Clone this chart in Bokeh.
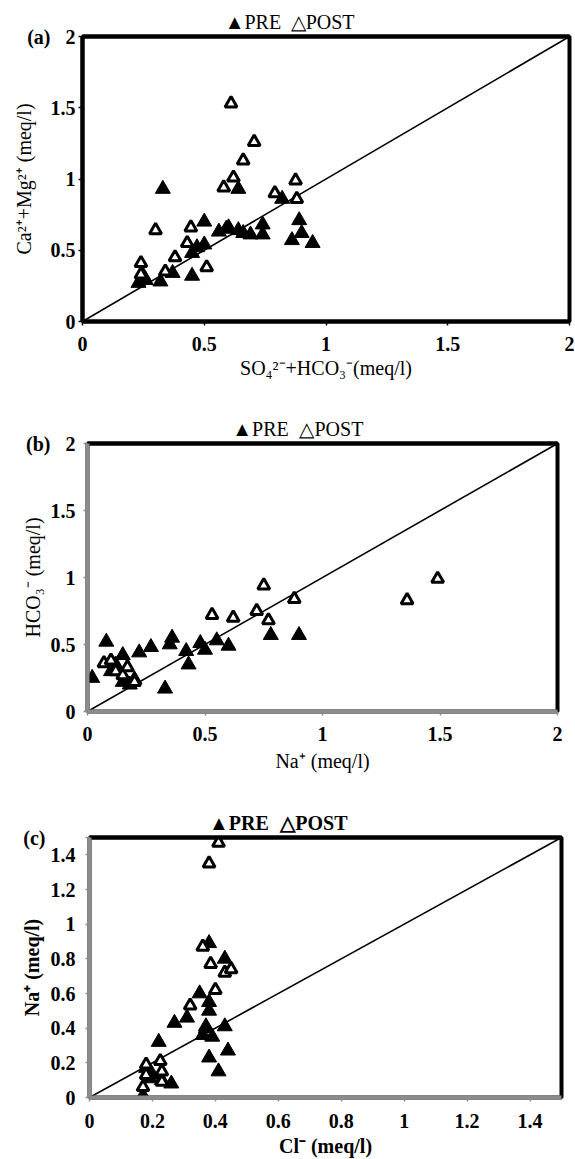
from bokeh.plotting import figure
from bokeh.models import Range1d, FixedTicker, NumeralTickFormatter, LinearAxis
from bokeh.embed import file_html
from bokeh.resources import INLINE

# ---------------- data ----------------
# (a) Ca2+ + Mg2+ vs SO4 2- + HCO3-
a_pre_x = [0.23, 0.25, 0.26, 0.32, 0.33, 0.37, 0.45, 0.45, 0.47, 0.50, 0.50, 0.56, 0.59,
           0.60, 0.64, 0.64, 0.66, 0.69, 0.74, 0.74, 0.82, 0.86, 0.90, 0.89, 0.945]
a_pre_y = [0.27, 0.32, 0.29, 0.28, 0.93, 0.34, 0.32, 0.48, 0.52, 0.54, 0.70, 0.63, 0.65,
           0.66, 0.93, 0.64, 0.62, 0.61, 0.61, 0.68, 0.86, 0.57, 0.62, 0.71, 0.55]
a_post_x = [0.24, 0.24, 0.30, 0.34, 0.38, 0.43, 0.445, 0.51, 0.58, 0.61, 0.62, 0.66,
            0.705, 0.79, 0.875, 0.88]
a_post_y = [0.41, 0.33, 0.64, 0.35, 0.45, 0.55, 0.66, 0.38, 0.94, 1.53, 1.01, 1.13,
            1.26, 0.90, 0.99, 0.86]

# (b) HCO3- vs Na+
b_pre_x = [0.02, 0.08, 0.10, 0.12, 0.15, 0.15, 0.18, 0.20, 0.22, 0.27, 0.33, 0.35, 0.36,
           0.42, 0.43, 0.48, 0.50, 0.55, 0.60, 0.78, 0.90]
b_pre_y = [0.25, 0.52, 0.30, 0.35, 0.42, 0.22, 0.20, 0.24, 0.44, 0.48, 0.17, 0.50, 0.55,
           0.45, 0.35, 0.51, 0.46, 0.53, 0.49, 0.57, 0.57]
b_post_x = [0.07, 0.10, 0.12, 0.15, 0.17, 0.20, 0.53, 0.62, 0.72, 0.75, 0.77, 0.88, 1.36, 1.49]
b_post_y = [0.36, 0.38, 0.30, 0.27, 0.33, 0.22, 0.72, 0.70, 0.75, 0.94, 0.68, 0.84, 0.83, 0.99]

# (c) Na+ vs Cl-
c_pre_x = [0.17, 0.18, 0.19, 0.20, 0.22, 0.23, 0.26, 0.27, 0.31, 0.35, 0.36, 0.37, 0.38,
           0.38, 0.38, 0.38, 0.39, 0.41, 0.43, 0.43, 0.44, 0.37]
c_pre_y = [0.01, 0.17, 0.11, 0.13, 0.32, 0.10, 0.08, 0.43, 0.46, 0.60, 0.36, 0.41, 0.89,
           0.55, 0.50, 0.23, 0.35, 0.15, 0.80, 0.41, 0.27, 0.40]
c_post_x = [0.41, 0.38, 0.36, 0.385, 0.43, 0.45, 0.40, 0.32, 0.18, 0.225, 0.23, 0.23, 0.17, 0.18]
c_post_y = [1.47, 1.35, 0.87, 0.77, 0.72, 0.74, 0.62, 0.53, 0.19, 0.21, 0.15, 0.09, 0.06, 0.13]

ticks_ab = [0, 0.5, 1, 1.5, 2]
ticks_c = [0, 0.2, 0.4, 0.6, 0.8, 1, 1.2, 1.4]
line_ab = [0, 2]
line_c = [0, 1.5]
legend_labels = ["▲PRE", "△POST"]

SERIF = "Liberation Serif"
NB = "\u00a0"


def build(height, borders, lim, ticks, xlabel, ylabel, pre, post, line, edge, bold,
          xstd, ystd, legend_pos, tag, tag_y, tag_pad):
    top, right, bottom, left = borders
    p = figure(width=575, height=height, output_backend="svg", toolbar_location=None,
               x_range=Range1d(0, lim), y_range=Range1d(0, lim),
               min_border_top=top, min_border_right=right,
               min_border_bottom=bottom, min_border_left=left)
    p.outline_line_color = "black"
    p.outline_line_width = 4
    p.outline_line_alpha = 1.0
    p.xgrid.visible = False
    p.ygrid.visible = False
    p.background_fill_color = "white"
    p.border_fill_color = "white"

    p.line(line, line, line_color="black", line_width=1.6)
    p.scatter(pre[0], pre[1], marker="triangle", size=15, fill_color="black",
              line_color="black", line_width=1)
    p.scatter(post[0], post[1], marker="triangle", size=12, fill_color="white",
              line_color="black", line_width=3)

    style = "bold" if bold else "normal"
    for ax, (s, ls) in ((p.xaxis[0], xstd), (p.yaxis[0], ystd)):
        ax.ticker = FixedTicker(ticks=ticks)
        ax.formatter = NumeralTickFormatter(format="0.[0]")
        ax.minor_tick_line_color = None
        ax.major_tick_out = 4
        ax.major_tick_in = 0
        ax.major_tick_line_color = edge
        ax.major_tick_line_width = 1.5
        ax.axis_line_color = edge
        ax.axis_line_width = 4
        ax.major_label_text_font = SERIF
        ax.major_label_text_font_style = "bold"
        ax.major_label_text_font_size = "20px"
        ax.major_label_text_color = "black"
        ax.major_label_standoff = s
        ax.axis_label_text_font = SERIF
        ax.axis_label_text_font_style = style
        ax.axis_label_text_font_size = "20px"
        ax.axis_label_text_color = "black"
        ax.axis_label_standoff = ls
    p.xaxis[0].axis_label = xlabel
    p.yaxis[0].axis_label = ylabel

    # panel tag "(a)" etc. shown beside the top of the y axis
    p.yaxis[0].ticker = FixedTicker(ticks=ticks + [tag_y])
    p.yaxis[0].major_label_overrides = {tag_y: tag + NB * tag_pad}

    # top border carrying the PRE / POST key
    top_ax = LinearAxis(ticker=FixedTicker(ticks=legend_pos),
                        major_label_overrides={legend_pos[0]: legend_labels[0],
                                               legend_pos[1]: legend_labels[1]},
                        axis_line_color="black", axis_line_width=4,
                        major_tick_line_color=None, minor_tick_line_color=None,
                        major_tick_out=0, major_tick_in=0, major_label_standoff=4,
                        major_label_text_font=SERIF, major_label_text_font_style=style,
                        major_label_text_font_size="20px", major_label_text_color="black")
    p.add_layout(top_ax, "above")
    return p


pa = build(389, (36, 6, 68, 82), 2, ticks_ab, "SO₄²⁻+HCO₃⁻(meq/l)", "Ca²⁺+Mg²⁺ (meq/l)",
           (a_pre_x, a_pre_y), (a_post_x, a_post_y), line_ab, "black", False,
           (11, 3), (3, -11), [0.700, 0.986], "(a)", 1.9999, 5)

pb = build(389, (54, 18, 67, 87), 2, ticks_ab, "Na⁺ (meq/l)", "HCO₃⁻ (meq/l)",
           (b_pre_x, b_pre_y), (b_post_x, b_post_y), line_ab, "#8c8c8c", False,
           (11, 6), (8, -21), [0.736, 1.038], "(b)", 1.9999, 5)

pc = build(381, (59, 14, 61, 89), 1.5, ticks_c, "Cl⁻ (meq/l)", "Na⁺ (meq/l)",
           (c_pre_x, c_pre_y), (c_post_x, c_post_y), line_c, "#8c8c8c", True,
           (12, 4), (10, -23), [0.475, 0.713], "(c)", 1.5, 6)

open("out.html", "w").write(file_html([pa, pb, pc], INLINE))
